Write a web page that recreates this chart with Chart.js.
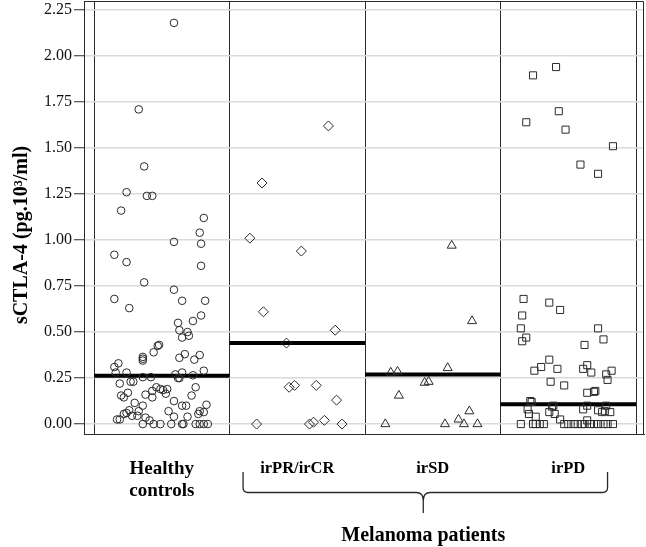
<!DOCTYPE html>
<html>
<head>
<meta charset="utf-8">
<script src="https://cdn.jsdelivr.net/npm/chart.js@4.4.0/dist/chart.umd.min.js"></script>
<style>
  html, body { margin: 0; padding: 0; background: #fff; }
  canvas { display: block; }
</style>
</head>
<body>
<canvas id="chart" width="646" height="547"></canvas>
<script>
const categories = [['Healthy', 'controls'], 'irPR/irCR', 'irSD', 'irPD'];
const yTicks = [0, 0.25, 0.5, 0.75, 1, 1.25, 1.5, 1.75, 2, 2.25];
const medians = [0.263, 0.44, 0.27, 0.107];

// x = position inside the group (jitter), y = sCTLA-4 value
const healthyJitter = [0.09,-0.17,-0.13,-0.26,-0.11,-0.07,-0.30,0.31,0.28,0.09,
    0.29,-0.35,-0.26,0.29,-0.13,0.09,-0.35,0.32,0.15,-0.24,
    0.29,0.12,0.23,0.13,0.19,0.20,0.15,-0.02,-0.03,-0.06,
    -0.14,-0.14,-0.14,0.17,0.13,0.28,0.24,-0.32,-0.35,0.31,
    -0.34,-0.26,0.15,0.10,0.23,-0.14,-0.08,0.12,0.13,-0.31,
    -0.23,-0.21,-0.04,-0.01,0.01,0.04,-0.07,-0.25,0.25,-0.12,
    -0.30,-0.28,-0.07,0.03,0.22,-0.20,0.09,0.15,0.18,-0.14,
    0.33,-0.24,-0.17,0.05,0.28,-0.28,-0.26,-0.22,-0.18,0.27,
    0.31,0.19,-0.12,0.09,-0.33,-0.31,-0.09,
    -0.14,-0.06,-0.01,0.07,0.15,0.16,0.25,0.28,0.31,0.34];
const healthyValues = [2.18,1.71,1.40,1.26,1.24,1.24,1.16,1.12,1.04,0.99,
    0.98,0.92,0.88,0.86,0.77,0.73,0.68,0.67,0.67,0.63,
    0.59,0.55,0.56,0.51,0.50,0.48,0.47,0.43,0.425,0.39,
    0.365,0.355,0.345,0.38,0.36,0.375,0.35,0.33,0.31,0.29,
    0.28,0.28,0.28,0.27,0.265,0.255,0.255,0.25,0.25,0.22,
    0.23,0.23,0.20,0.19,0.185,0.19,0.18,0.17,0.20,0.16,
    0.155,0.145,0.145,0.165,0.155,0.115,0.125,0.10,0.10,0.10,
    0.105,0.075,0.07,0.07,0.07,0.055,0.06,0.045,0.045,0.055,
    0.065,0.04,0.035,0.04,0.025,0.025,0.02,
    0,0,0,0,0,0,0,0,0,0];

const responderJitter = [0.23,-0.26,-0.35,0.03,-0.25,0.28,-0.08,-0.06,-0.02,0.14,0.29,-0.30,0.09,0.12,0.20,0.33];
const responderValues = [1.62,1.31,1.01,0.94,0.61,0.51,0.44,0.20,0.21,0.21,0.13,0,0,0.01,0.02,0];

const stableJitter = [0.14,0.29,0.11,-0.31,-0.26,-0.06,-0.03,-0.25,0.27,0.19,-0.35,0.09,0.23,0.33];
const stableValues = [0.97,0.56,0.305,0.28,0.285,0.225,0.23,0.155,0.07,0.025,0,0,0,0];

const progressiveJitter = [-0.09,-0.26,-0.07,-0.31,-0.02,0.33,0.09,0.22,-0.33,-0.14,
    -0.06,-0.34,-0.35,0.22,-0.31,-0.34,0.26,0.12,-0.14,-0.20,
    -0.25,-0.08,0.14,0.11,0.17,0.32,0.28,0.29,-0.13,-0.03,
    0.14,0.19,0.20,-0.28,-0.27,-0.11,-0.12,-0.30,0.11,0.14,
    0.22,0.28,0.31,0.27,0.25,-0.14,-0.29,-0.10,-0.24,-0.06,0.14,
    -0.35,-0.26,-0.24,-0.21,-0.18,-0.03,0.00,0.04,0.07,0.10,0.12,0.16,0.19,0.22,0.26,0.29,0.33];
const progressiveValues = [1.94,1.895,1.70,1.64,1.60,1.51,1.41,1.36,0.68,0.66,
    0.62,0.59,0.52,0.52,0.47,0.45,0.46,0.43,0.35,0.31,
    0.29,0.30,0.32,0.30,0.28,0.29,0.27,0.24,0.23,0.21,
    0.17,0.175,0.18,0.125,0.12,0.10,0.095,0.08,0.08,0.10,
    0.075,0.10,0.065,0.07,0.065,0.065,0.055,0.055,0.04,0.025,0.02,
    0,0,0,0,0,0,0,0,0,0,0,0,0,0,0,0,0];

const serif = '"Liberation Serif", "Times New Roman", serif';
const ink = '#2a2a2a';

function groupPoints(k, jitter, values) {
    return values.map((v, i) => ({ x: k + jitter[i], y: v }));
}

const groups = [
    { jitter: healthyJitter, values: healthyValues, style: 'circle', radius: 3.8 },
    { jitter: responderJitter, values: responderValues, style: 'rectRot', radius: 5 },
    { jitter: stableJitter, values: stableValues, style: 'triangle', radius: 5.2 },
    { jitter: progressiveJitter, values: progressiveValues, style: 'rect', radius: 5 }
];

const datasets = groups.map((g, k) => ({
    type: 'scatter',
    data: groupPoints(k, g.jitter, g.values),
    pointStyle: g.style,
    pointRadius: g.radius,
    pointBackgroundColor: 'rgba(0,0,0,0)',
    pointBorderColor: ink,
    pointBorderWidth: 1
}));

medians.forEach((m, k) => {
    datasets.push({
        type: 'line',
        data: [{ x: k - 0.5, y: m }, { x: k + 0.5, y: m }],
        borderColor: '#000',
        borderWidth: 4,
        pointRadius: 0,
        fill: false
    });
});

// frame, y title, brace and "Melanoma patients"
const decorations = {
    id: 'decorations',
    afterDraw(chart) {
        const { ctx, chartArea: a } = chart;
        const xs = chart.scales.x;
        ctx.save();
        ctx.strokeStyle = ink;
        ctx.lineWidth = 1;
        ctx.beginPath();
        ctx.moveTo(a.left, a.top + 0.5);
        ctx.lineTo(a.right - 0.5, a.top + 0.5);
        ctx.lineTo(a.right - 0.5, a.bottom);
        ctx.stroke();

        ctx.fillStyle = '#000';
        ctx.save();
        ctx.translate(22, 235);
        ctx.rotate(-Math.PI / 2);
        ctx.font = 'bold 20px ' + serif;
        ctx.textAlign = 'center';
        ctx.textBaseline = 'middle';
        ctx.fillText('sCTLA-4 (pg.10³/ml)', 0, 0);
        ctx.restore();

        const left = xs.getPixelForValue(0.60);
        const right = xs.getPixelForValue(3.29);
        const mid = xs.getPixelForValue(1.93);
        const top = 472, line = 492.5, tip = 513;
        ctx.lineWidth = 1.3;
        ctx.beginPath();
        ctx.moveTo(left, top);
        ctx.lineTo(left, line - 5);
        ctx.quadraticCurveTo(left, line, left + 5, line);
        ctx.lineTo(mid - 7, line);
        ctx.quadraticCurveTo(mid, line, mid, line + 8);
        ctx.lineTo(mid, tip);
        ctx.moveTo(mid, line + 8);
        ctx.quadraticCurveTo(mid, line, mid + 7, line);
        ctx.lineTo(right - 5, line);
        ctx.quadraticCurveTo(right, line, right, line - 5);
        ctx.lineTo(right, top);
        ctx.stroke();

        ctx.font = 'bold 20px ' + serif;
        ctx.textAlign = 'center';
        ctx.textBaseline = 'alphabetic';
        ctx.fillText('Melanoma patients', mid, 541);
        ctx.restore();
    }
};

new Chart(document.getElementById('chart').getContext('2d'), {
    data: { datasets: datasets },
    plugins: [decorations],
    options: {
        responsive: false,
        animation: false,
        layout: { autoPadding: false, padding: { top: 1, right: 2, left: 0, bottom: 0 } },
        plugins: { legend: { display: false }, tooltip: { enabled: false } },
        scales: {
            x: {
                type: 'linear',
                min: -0.574,
                max: 3.559,
                z: 0,
                afterBuildTicks: s => { s.ticks = categories.map((_, i) => ({ value: i })); },
                afterFit: s => { s.height = 113; s.paddingLeft = 0; s.paddingRight = 0; },
                grid: { offset: true, drawTicks: false, color: ink, lineWidth: 1 },
                border: { display: true, color: ink, width: 1 },
                ticks: {
                    autoSkip: false,
                    maxRotation: 0,
                    padding: 24,
                    color: '#000',
                    callback: (v, i) => categories[i],
                    font: c => ({ family: serif, weight: 'bold', size: c.index === 0 ? 19 : 16.5, lineHeight: '22px' })
                }
            },
            y: {
                type: 'linear',
                min: -0.054,
                max: 2.299,
                z: -1,
                afterBuildTicks: s => { s.ticks = yTicks.map(v => ({ value: v })); },
                afterFit: s => { s.width = 84; s.paddingTop = 0; s.paddingBottom = 0; },
                grid: { color: '#dadada', lineWidth: 1.5, tickColor: ink, tickLength: 10, tickWidth: 1 },
                border: { display: true, color: ink, width: 1 },
                ticks: {
                    padding: 2,
                    color: '#111',
                    font: { family: serif, size: 16 },
                    callback: v => v.toFixed(2)
                }
            }
        }
    }
});
</script>
</body>
</html>
